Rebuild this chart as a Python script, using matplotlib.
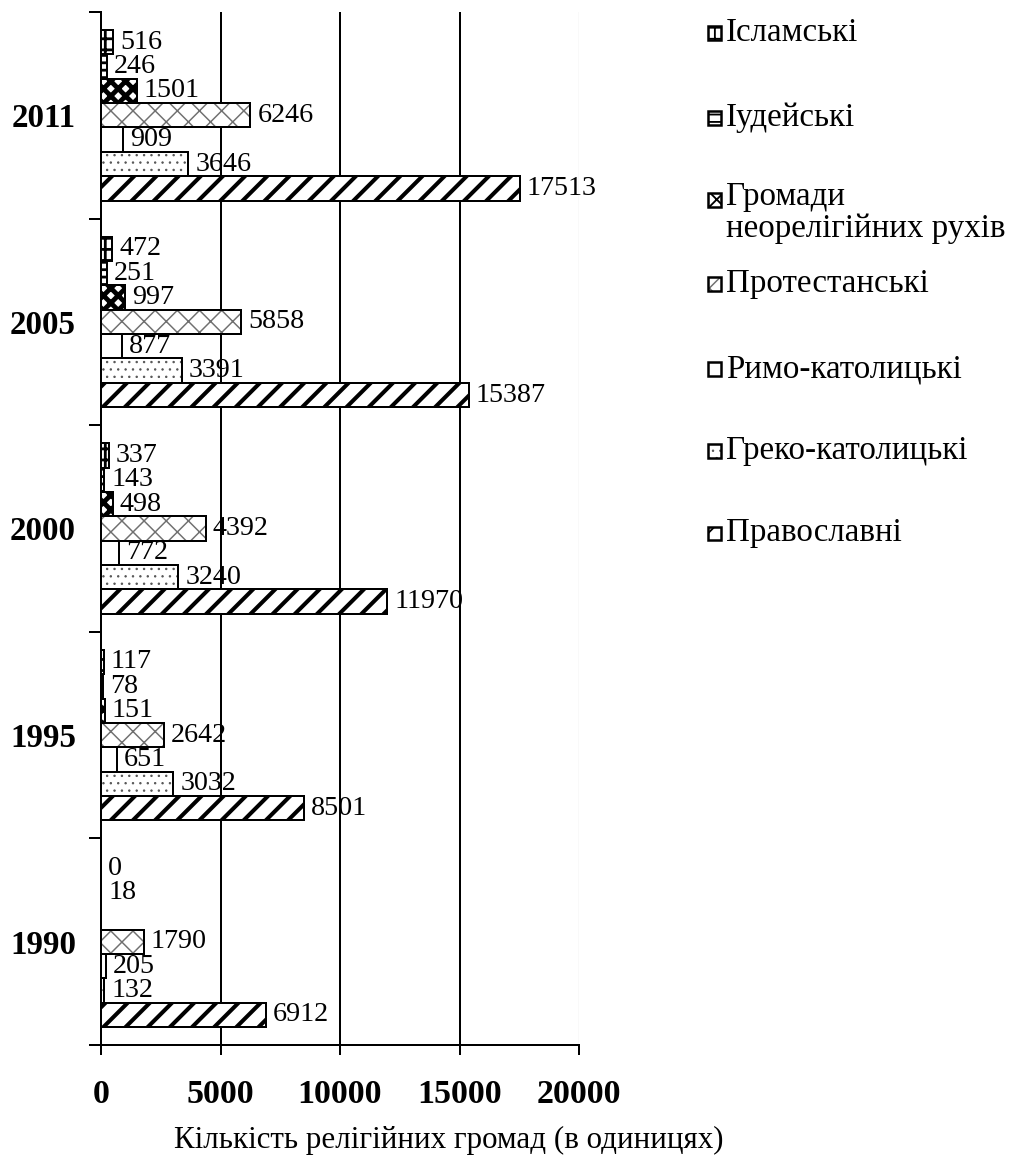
import matplotlib
matplotlib.use('Agg')
import matplotlib.pyplot as plt
import numpy as np
from matplotlib.patches import Rectangle

plt.rcParams['font.family'] = ['Liberation Serif', 'DejaVu Serif']

years = ['1990', '1995', '2000', '2005', '2011']
orthodox = [6912, 8501, 11970, 15387, 17513]
greek_cath = [132, 3032, 3240, 3391, 3646]
roman_cath = [205, 651, 772, 877, 909]
protestant = [1790, 2642, 4392, 5858, 6246]
neorelig = [None, 151, 498, 997, 1501]
judaic = [18, 78, 143, 251, 246]
islamic = [0, 117, 337, 472, 516]

series_names = ['Православні', 'Греко-католицькі', 'Римо-католицькі',
                'Протестанські', 'Громади\nнеорелігійних рухів',
                'Іудейські', 'Ісламські']
series = [orthodox, greek_cath, roman_cath, protestant, neorelig, judaic, islamic]

# facecolor, hatch, hatch colour, hatch linewidth
styles = [
    ('white', '//', 'black', 2.2),
    ('white', '...', '#555555', 0.5),
    ('white', '', 'black', 1.0),
    ('white', 'xx', '#707070', 0.8),
    ('white', 'xxx', 'black', 2.6),
    ('white', '---', 'black', 1.5),
    ('white', '++', 'black', 1.5),
]

DPI = 133
PT = 72 / DPI  # pixels -> points
fig = plt.figure(figsize=(1010 / DPI, 1166 / DPI), dpi=DPI)
ax = fig.add_axes([101 / 1010, 1 - 1045 / 1166, 478 / 1010, 1033 / 1166])

h = 0.118
idx = np.arange(len(years))
for i, (data, (fc, hatch, hc, hlw)) in enumerate(zip(series, styles)):
    vals = np.array([np.nan if v is None else v for v in data], dtype=float)
    y = idx + (i - 3) * h
    with plt.rc_context({'hatch.linewidth': hlw, 'hatch.color': hc}):
        ax.barh(y, vals, height=h, color=fc, hatch=hatch, edgecolor=hc,
                linewidth=0, zorder=2)
    bars = ax.barh(y, vals, height=h, fill=False, edgecolor='black',
                   linewidth=2 * PT, zorder=3)
    labels = ['' if v is None else str(v) for v in data]
    ax.bar_label(bars, labels=labels, padding=7 * PT, fontsize=28 * PT,
                 family=['Liberation Serif', 'DejaVu Serif'])

ax.set_xlim(0, 20000)
ax.set_ylim(-0.5, len(years) - 0.5)
ax.set_xticks([0, 5000, 10000, 15000, 20000])
ax.set_xticklabels(['0', '5000', '10000', '15000', '20000'],
                   fontsize=34 * PT, fontweight='bold')
ax.set_yticks(idx)
ax.set_yticklabels(years, fontsize=33 * PT, fontweight='bold')
ax.set_yticks(np.arange(-0.5, len(years)), minor=True)
ax.tick_params(axis='y', which='major', length=0, pad=25 * PT)
ax.tick_params(axis='y', which='minor', length=12 * PT, width=2 * PT,
               direction='out')
ax.tick_params(axis='x', length=10 * PT, width=2 * PT, direction='out',
               pad=24 * PT)

ax.set_axisbelow(True)
ax.grid(axis='x', color='black', linewidth=2 * PT)
ax.get_xgridlines()[-1].set_color('#c8c8c8')
ax.get_xgridlines()[-1].set_linewidth(1.2 * PT)
for s in ['top', 'right']:
    ax.spines[s].set_visible(False)
for s in ['left', 'bottom']:
    ax.spines[s].set_linewidth(2 * PT)

ax.set_xlabel('Кількість релігійних громад (в одиницях)', fontsize=31 * PT)
ax.xaxis.set_label_coords((449 - 101) / 478, -0.078)
ax.xaxis.label.set_va('top')

# legend, laid out like the original (reverse series order)
legend_y = [33, 118, 200, 284, 369, 451, 533]
for k, (name, (fc, hatch, hc, hlw)) in enumerate(zip(series_names[::-1], styles[::-1])):
    yc = 1 - legend_y[k] / 1166
    box = (708 / 1010, yc - 6.5 / 1166)
    with plt.rc_context({'hatch.linewidth': min(hlw, 1.0), 'hatch.color': hc}):
        fig.patches.append(Rectangle(box, 13 / 1010, 13 / 1166,
                                     transform=fig.transFigure, facecolor=fc,
                                     hatch=hatch, edgecolor=hc, linewidth=0))
    fig.patches.append(Rectangle(box, 13 / 1010, 13 / 1166,
                                 transform=fig.transFigure, fill=False,
                                 edgecolor='black', linewidth=2.5 * PT))
    if '\n' in name:
        fig.text(726 / 1010, yc + 19 / 1166, name, fontsize=33 * PT, va='top',
                 ha='left', linespacing=1.1)
    else:
        fig.text(726 / 1010, yc, name, fontsize=33 * PT, va='center', ha='left')

fig.savefig('out.png', dpi=DPI)
